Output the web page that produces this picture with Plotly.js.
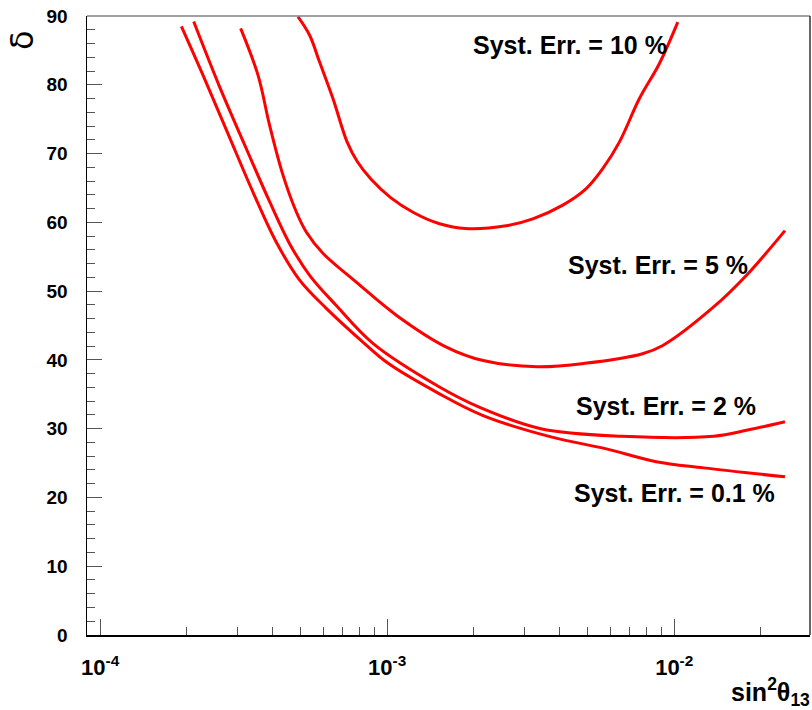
<!DOCTYPE html>
<html>
<head>
<meta charset="utf-8">
<script src="https://cdn.plot.ly/plotly-3.0.1.min.js"></script>
<style>
  html, body { margin: 0; padding: 0; background: #fff; }
  #chart { width: 812px; height: 710px; }
</style>
</head>
<body>
<div id="chart"></div>
<script>
// Sensitivity contours: delta (deg) versus sin^2(theta13), one per systematic error level

// Syst. Err. = 0.1 %
const sin2_err01 = [1.919e-4, 2.282e-4, 2.788e-4, 3.407e-4, 4.110e-4, 4.955e-4, 6.137e-4, 8.229e-4,
                    1.008e-3, 1.516e-3, 2.159e-3, 3.722e-3, 5.752e-3, 8.650e-3, 1.266e-2, 2.431e-2];
const delta_err01 = [88.5, 81.4, 72.9, 64.4, 57.1, 51.6, 47.5, 42.6,
                     39.5, 35.1, 31.9, 28.8, 27.1, 25.2, 24.3, 23.0];

// Syst. Err. = 2 %
const sin2_err2 = [2.118e-4, 2.608e-4, 3.231e-4, 3.895e-4, 4.571e-4, 5.368e-4, 6.648e-4, 8.917e-4,
                   1.516e-3, 2.101e-3, 3.429e-3, 6.587e-3, 1.372e-2, 1.803e-2, 2.431e-2];
const delta_err2 = [89.2, 79.7, 70.7, 63.0, 56.9, 52.3, 47.9, 42.4,
                    36.1, 33.1, 30.0, 28.9, 28.9, 29.8, 31.0];

// Syst. Err. = 5 %
const sin2_err5 = [3.087e-4, 3.548e-4, 3.895e-4, 4.333e-4, 4.826e-4, 5.226e-4, 5.971e-4, 7.805e-4,
                   1.076e-3, 1.601e-3, 2.159e-3, 3.337e-3, 4.884e-3, 7.757e-3, 9.127e-3, 1.372e-2,
                   1.803e-2, 2.431e-2];
const delta_err5 = [88.2, 81.4, 74.1, 66.9, 61.5, 58.6, 55.5, 51.3,
                    46.5, 41.9, 39.9, 39.0, 39.5, 40.9, 42.1, 47.7,
                    52.5, 58.8];

// Syst. Err. = 10 %
const sin2_err10 = [4.888e-4, 5.368e-4, 5.815e-4, 6.472e-4, 7.249e-4, 7.876e-4, 8.775e-4, 1.028e-3,
                    1.239e-3, 1.522e-3, 1.877e-3, 2.598e-3, 3.216e-3, 4.091e-3, 4.935e-3, 5.636e-3,
                    6.446e-3, 7.564e-3, 8.882e-3, 1.029e-2];
const delta_err10 = [89.9, 87.2, 83.3, 78.0, 71.7, 68.8, 66.3, 63.6,
                     61.4, 59.8, 59.1, 59.5, 60.5, 62.5, 64.9, 67.8,
                     71.7, 78.0, 83.1, 89.1];

// Curve labels
const labels = ["Syst. Err. = 10 %", "Syst. Err. = 5 %", "Syst. Err. = 2 %", "Syst. Err. = 0.1 %"];

// Axis ticks
const xMajor = [1e-4, 1e-3, 1e-2];
const xMajorText = ["10<sup>-4</sup>", "10<sup>-3</sup>", "10<sup>-2</sup>"];
const xMinor = [];
[1e-5, 1e-4, 1e-3, 1e-2].forEach(function (dec) {
  for (let m = 2; m <= 9; m++) xMinor.push(m * dec);
});

const RED = "#ff0000";
function curve(x, y) {
  return {
    x: x, y: y, type: "scatter", mode: "lines",
    line: { color: RED, width: 3, shape: "spline", smoothing: 1 },
    hoverinfo: "skip", showlegend: false
  };
}

const data = [
  curve(sin2_err01, delta_err01),
  curve(sin2_err2, delta_err2),
  curve(sin2_err5, delta_err5),
  curve(sin2_err10, delta_err10)
];

const FONT = "Liberation Sans, Arial, Helvetica, sans-serif";
const TICKC = "#555555";

// paper coordinates from pixel positions inside the 812x710 page
const L = 87.3, R = 810.5, T = 15.7, B = 634.7;
function px(x) { return (x - L) / (R - L); }
function py(y) { return (B - y) / (B - T); }

function label(text, cx, cy) {
  return {
    text: text, xref: "paper", yref: "paper", x: px(cx), y: py(cy),
    xanchor: "center", yanchor: "middle", showarrow: false,
    font: { family: FONT, size: 25, color: "#000", weight: 700 }
  };
}

const layout = {
  width: 812, height: 710,
  margin: { l: L, r: 812 - R, t: T, b: 710 - B, pad: 0 },
  paper_bgcolor: "#fff", plot_bgcolor: "#fff",
  showlegend: false,
  xaxis: {
    type: "log",
    range: [Math.log10(9.0e-5), Math.log10(0.02972)],
    tickmode: "array", tickvals: xMajor, ticktext: xMajorText,
    ticks: "inside", ticklen: 16, tickwidth: 1, tickcolor: TICKC,
    minor: { tickmode: "array", tickvals: xMinor, ticks: "inside", ticklen: 8, tickwidth: 1, tickcolor: TICKC, showgrid: false },
    ticklabelstandoff: 12,
    tickfont: { family: FONT, size: 22, color: "#000", weight: 700 },
    showline: true, linecolor: "#000", linewidth: 1.5,
    showgrid: false, zeroline: false, fixedrange: true
  },
  yaxis: {
    range: [0, 90],
    tickmode: "linear", tick0: 0, dtick: 10,
    ticks: "inside", ticklen: 15, tickwidth: 1, tickcolor: TICKC,
    minor: { dtick: 2, ticks: "inside", ticklen: 8, tickwidth: 1, tickcolor: TICKC, showgrid: false },
    ticklabelstandoff: 14,
    tickfont: { family: FONT, size: 19, color: "#000", weight: 700 },
    showline: true, linecolor: "#000", linewidth: 1.5,
    showgrid: false, zeroline: false, fixedrange: true
  },
  shapes: [
    // upper and right frame edges
    { type: "line", xref: "paper", yref: "paper", x0: 0, x1: 1, y0: 1, y1: 1, line: { color: "#808080", width: 1.5 } },
    { type: "line", xref: "paper", yref: "paper", x0: 1, x1: 1, y0: 0, y1: 1, line: { color: "#333333", width: 1.5 } }
  ],
  annotations: [
    label(labels[0], 570, 44.5),
    label(labels[1], 658, 264.5),
    label(labels[2], 666.5, 406),
    label(labels[3], 675, 493),
    {
      text: "δ", xref: "paper", yref: "paper", x: px(23), y: py(40),
      xanchor: "center", yanchor: "middle", textangle: -90, showarrow: false,
      font: { family: "DejaVu Sans, sans-serif", size: 32, color: "#000" }
    },
    {
      text: "sin<sup>2</sup>θ<sub>13</sub>", xref: "paper", yref: "paper", x: px(729), y: py(692),
      xanchor: "left", yanchor: "middle", showarrow: false,
      font: { family: FONT, size: 25, color: "#000", weight: 700 }
    }
  ]
};

Plotly.newPlot("chart", data, layout, { staticPlot: true, displayModeBar: false });
</script>
</body>
</html>
